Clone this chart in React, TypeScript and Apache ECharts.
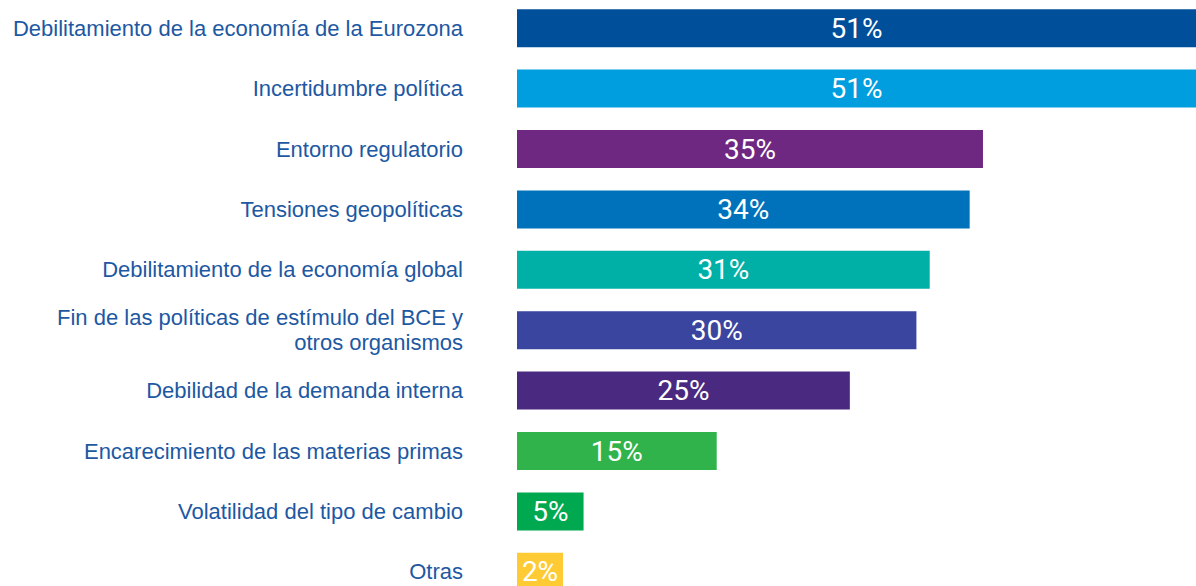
import React, { useEffect, useRef } from "react";
import * as echarts from "echarts";

const categories = [
  "Debilitamiento de la economía de la Eurozona",
  "Incertidumbre política",
  "Entorno regulatorio",
  "Tensiones geopolíticas",
  "Debilitamiento de la economía global",
  "Fin de las políticas de estímulo del BCE y\notros organismos",
  "Debilidad de la demanda interna",
  "Encarecimiento de las materias primas",
  "Volatilidad del tipo de cambio",
  "Otras",
];
const values = [51, 51, 35, 34, 31, 30, 25, 15, 5, 2];
const colors = [
  "#004f9a",
  "#009edf",
  "#6e2882",
  "#0072bb",
  "#00b0a7",
  "#3a45a0",
  "#4a2a80",
  "#31b34b",
  "#00a84f",
  "#ffcb35",
];

export default function App() {
  const ref = useRef<HTMLDivElement>(null);
  useEffect(() => {
    if (!ref.current) return;
    const chart = echarts.init(ref.current, undefined, { renderer: "svg" });
    chart.setOption({
      animation: false,
      grid: { left: 517, right: 0, top: 0, bottom: 0, containLabel: false },
      xAxis: {
        type: "value",
        min: 0,
        max: 51,
        show: false,
      },
      yAxis: {
        type: "category",
        data: categories,
        inverse: true,
        axisLine: { show: false },
        axisTick: { show: false },
        axisLabel: {
          margin: 54,
          color: "#1d58a2",
          fontFamily: "Liberation Sans",
          fontSize: 22,
          lineHeight: 25,
          align: "right",
        },
      },
      series: [
        {
          type: "bar",
          barWidth: 38,
          barMinHeight: 46,
          data: values.map((v, i) => ({ value: v, itemStyle: { color: colors[i] } })),
          label: {
            show: true,
            position: "inside",
            color: "#ffffff",
            fontFamily: "Roboto",
            fontSize: 28,
            formatter: (p: any) => `${p.value}%`,
          },
        },
      ],
    });
    return () => chart.dispose();
  }, []);
  return (
    <div
      ref={ref}
      style={{ position: "fixed", left: 0, top: -2, width: 1196, height: 604, background: "#fff" }}
    />
  );
}
